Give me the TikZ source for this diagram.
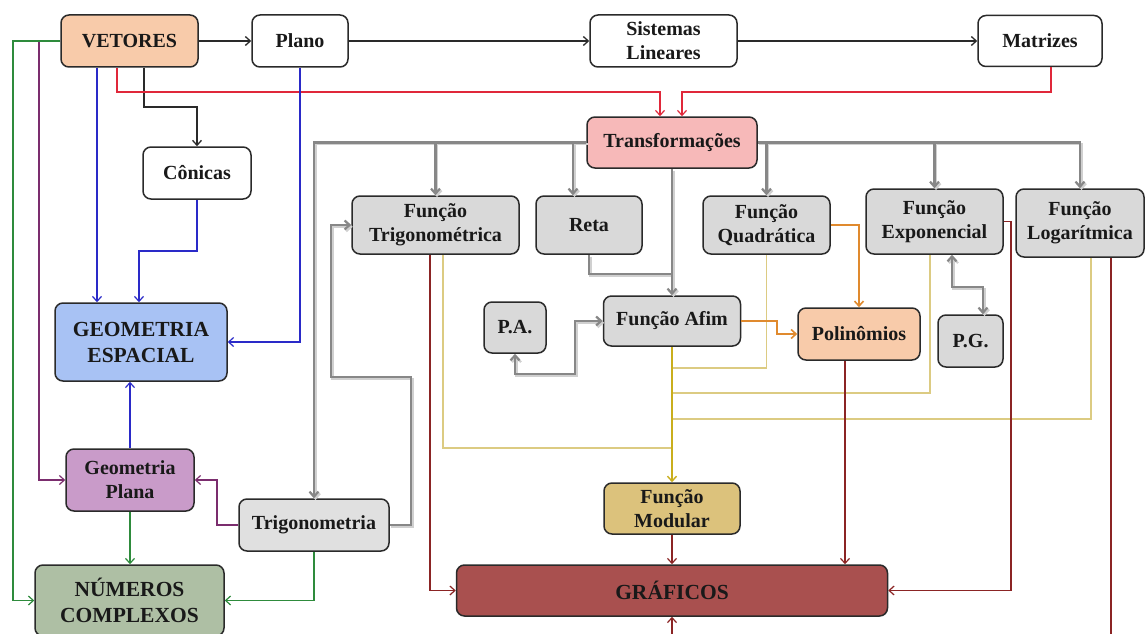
\documentclass[tikz,border=0pt]{standalone}
\usepackage{fontspec}
\setmainfont{Liberation Serif}
\usetikzlibrary{arrows.meta}
\definecolor{cpeach}{HTML}{F8CBAA}
\definecolor{cpink}{HTML}{F7B9B9}
\definecolor{cgray}{HTML}{D9D9D9}
\definecolor{cltgray}{HTML}{E0E0E0}
\definecolor{cblue}{HTML}{A8C2F4}
\definecolor{cpurple}{HTML}{C99BC9}
\definecolor{cgreen}{HTML}{AEBFA4}
\definecolor{cgold}{HTML}{DCC27C}
\definecolor{cgraf}{HTML}{A9504F}
\definecolor{lred}{HTML}{E0283A}
\definecolor{lblue}{HTML}{2A2AC8}
\definecolor{lpurple}{HTML}{7B2D6E}
\definecolor{lgreen}{HTML}{2E8B3C}
\definecolor{lgray}{HTML}{878787}
\definecolor{lshadow}{HTML}{D0D0D0}
\definecolor{lorange}{HTML}{E08A2E}
\definecolor{lyellow}{HTML}{DCCB82}
\definecolor{lgold}{HTML}{C9AE1C}
\definecolor{ldred}{HTML}{8B2424}
\definecolor{ldark}{HTML}{2A2A2A}
\tikzset{
  box/.style={draw=ldark, line width=1.5pt, rounded corners=8pt, align=center,
    inner sep=0pt, text=black!90, fill=white,
    font=\fontsize{20}{24}\selectfont\bfseries},
  bigbox/.style={box, font=\fontsize{21.5}{26}\selectfont\bfseries},
  tip/.style={-{Straight Barb[length=5pt,width=9pt]}},
  blk/.style={draw=ldark, line width=1.3pt, tip},
  redc/.style={draw=lred, line width=1.2pt, tip},
  bluec/.style={draw=lblue, line width=1.2pt, tip},
  purc/.style={draw=lpurple, line width=1.2pt, tip},
  grnc/.style={draw=lgreen, line width=1.2pt, tip},
  gryline/.style={draw=lgray, line width=2.2pt,
    preaction={draw=lshadow, line width=2.2pt, transform canvas={xshift=1.5pt,yshift=-1.8pt}}},
  gryc/.style={gryline, tip},
  grybi/.style={gryline, {Straight Barb[length=5pt,width=9pt]}-{Straight Barb[length=5pt,width=9pt]}},
  orc/.style={draw=lorange, line width=1.6pt, tip},
  yelc/.style={draw=lyellow, line width=1.4pt},
  goldc/.style={draw=lgold, line width=1.4pt, tip},
  drc/.style={draw=ldred, line width=1.2pt, tip}
}
\begin{document}
\begin{tikzpicture}[x=1pt,y=-1pt]
\clip (0,0) rectangle (1146,634);
\fill[white] (0,0) rectangle (1146,634);
% nodes
\node[box, fill=cpeach, minimum width=137pt, minimum height=52pt] (vet) at (129.5,41) {VETORES};
\node[box, minimum width=96pt, minimum height=52pt] (plano) at (300,41) {Plano};
\node[box, minimum width=147pt, minimum height=52pt] (sis) at (663.5,41) {Sistemas\\Lineares};
\node[box, minimum width=124pt, minimum height=51pt] (mat) at (1040,41) {Matrizes};
\node[box, minimum width=108pt, minimum height=52pt] (con) at (197,173) {Cônicas};
\node[box, fill=cpink, minimum width=170pt, minimum height=51pt] (trans) at (672,142.5) {Transformações};
\node[box, fill=cgray, minimum width=167pt, minimum height=58pt] (ftrig) at (435.5,225) {Função\\Trigonométrica};
\node[box, fill=cgray, minimum width=106pt, minimum height=58pt] (reta) at (589,225) {Reta};
\node[box, fill=cgray, minimum width=127pt, minimum height=58pt] (fquad) at (766.5,225) {Função\\Quadrática};
\node[box, fill=cgray, minimum width=137pt, minimum height=65pt] (fexp) at (934.5,221.5) {Função\\Exponencial};
\node[box, fill=cgray, minimum width=128pt, minimum height=68pt] (flog) at (1080,223) {Função\\Logarítmica};
\node[box, fill=cgray, minimum width=62pt, minimum height=51pt] (pa) at (515,327.5) {P.A.};
\node[box, fill=cgray, minimum width=137pt, minimum height=50pt] (afim) at (672,321) {Função Afim};
\node[box, fill=cpeach, minimum width=122pt, minimum height=52pt] (poli) at (859,334) {Polinômios};
\node[box, fill=cgray, minimum width=65pt, minimum height=52pt] (pg) at (970.5,341) {P.G.};
\node[bigbox, fill=cblue, minimum width=172pt, minimum height=78pt] (gesp) at (141,342) {GEOMETRIA\\ESPACIAL};
\node[box, fill=cpurple, minimum width=128pt, minimum height=62pt] (gpla) at (130,480) {Geometria\\Plana};
\node[box, fill=cltgray, minimum width=150pt, minimum height=52pt] (trigo) at (314,525) {Trigonometria};
\node[bigbox, fill=cgreen, minimum width=189pt, minimum height=71pt] (ncom) at (129.5,600.5) {NÚMEROS\\COMPLEXOS};
\node[box, fill=cgold, minimum width=136pt, minimum height=51pt] (fmod) at (672,508.5) {Função\\Modular};
\node[bigbox, fill=cgraf, minimum width=431pt, minimum height=51pt] (graf) at (672,590.5) {GRÁFICOS};
% black
\draw[blk] (vet.east) -- (plano.west);
\draw[blk] (plano.east) -- (sis.west);
\draw[blk] (sis.east) -- (mat.west);
\draw[blk] (vet.south -| 144,0) -- (144,107) -| (con.north);
% red
\draw[redc] (vet.south -| 117,0) -- (117,92) -| (trans.north -| 660,0);
\draw[redc] (mat.south -| 1051,0) -- (1051,92) -| (trans.north -| 682,0);
% blue
\draw[bluec] (vet.south -| 97,0) -- (gesp.north -| 97,0);
\draw[bluec] (con.south) -- (197,251) -| (gesp.north -| 139,0);
\draw[bluec] (plano.south) -- (300,342) -- (gesp.east);
\draw[bluec] (gpla.north) -- (gesp.south -| gpla.north);
% purple
\draw[purc] (vet.west) -- (39,41) |- (gpla.west);
\draw[purc] (trigo.west) -- (217,525) |- (gpla.east);
% green
\draw[grnc] (vet.west) -- (13,41) |- (ncom.west);
\draw[grnc] (gpla.south) -- (ncom.north -| gpla.south);
\draw[grnc] (trigo.south) |- (ncom.east);
% yellow lines
\draw[yelc] (fquad.south) |- (672,368);
\draw[yelc] (fexp.south -| 930,0) |- (672,393);
\draw[yelc] (flog.south -| 1091,0) |- (672,419);
\draw[yelc] (ftrig.south -| 443,0) |- (672,448);
\draw[goldc] (afim.south) -- (fmod.north);
% dark red
\draw[drc] (ftrig.south -| 430,0) |- (graf.west);
\draw[drc] (fmod.south) -- (graf.north -| fmod.south);
\draw[drc] (poli.south -| 845,0) -- (graf.north -| 845,0);
\draw[drc] (fexp.east) -- (1011,221.5) |- (graf.east);
\draw[drc] (flog.south -| 1111,0) -- (1111,660) -| (graf.south);
% gray
\draw[gryc] (trans.west) -| (trigo.north);
\draw[gryc] (ftrig.north |- trans.west) -- (ftrig.north);
\draw[gryc] (trans.west -| 573,0) -- (reta.north -| 573,0);
\draw[gryc] (trans.east) -| (flog.north);
\draw[gryc] (fquad.north |- trans.east) -- (fquad.north);
\draw[gryc] (fexp.north |- trans.east) -- (fexp.north);
\draw[gryline] (reta.south) |- (672,274);
\draw[gryc] (trans.south) -- (afim.north);
\draw[grybi] (afim.west) -- (575,321) |- (515,374) -- (pa.south);
\draw[grybi] (fexp.south -| 952,0) -- (952,287) -| (pg.north -| 983,0);
\draw[gryc] (trigo.east) -- (411,525) |- (331,377) |- (ftrig.west);
% orange
\draw[orc] (fquad.east) -| (poli.north);
\draw[orc] (afim.east) -- (777,321) |- (poli.west);
\end{tikzpicture}
\end{document}
